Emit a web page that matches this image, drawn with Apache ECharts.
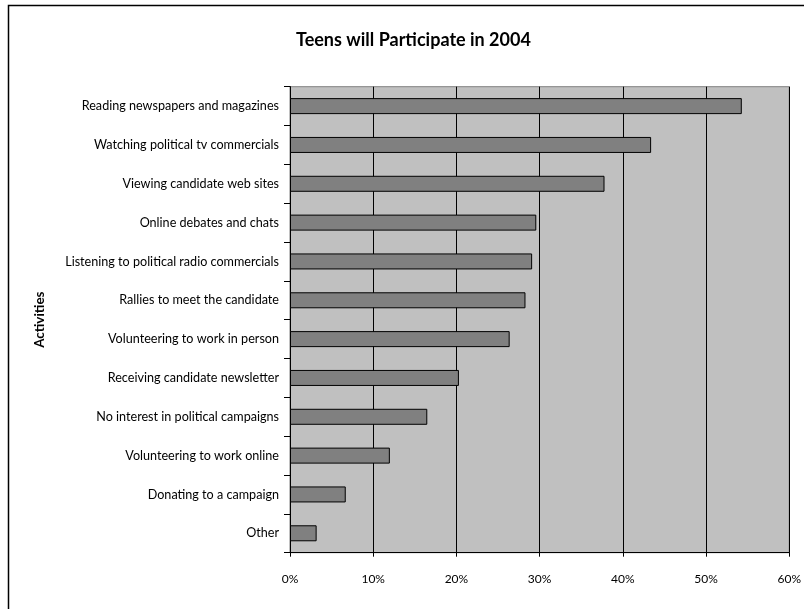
<!DOCTYPE html>
<html>
<head>
<meta charset="utf-8">
<script src="https://cdn.jsdelivr.net/npm/echarts@6/dist/echarts.min.js"></script>
<style>html,body{margin:0;padding:0;background:#fff;}#c{width:804px;height:609px;}</style>
</head>
<body>
<div id="c"></div>
<script>
const categories = [
  "Reading newspapers and magazines",
  "Watching political tv commercials",
  "Viewing candidate web sites",
  "Online debates and chats",
  "Listening to political radio commercials",
  "Rallies to meet the candidate",
  "Volunteering to work in person",
  "Receiving candidate newsletter",
  "No interest in political campaigns",
  "Volunteering to work online",
  "Donating to a campaign",
  "Other"
];
const values = [54.3, 43.4, 37.8, 29.6, 29.1, 28.3, 26.4, 20.3, 16.5, 12.0, 6.7, 3.2];
const xTicks = [0, 10, 20, 30, 40, 50, 60];
const titleText = "Teens will Participate in 2004";
const yAxisName = "Activities";

const FONT = "Lato";
const chart = echarts.init(document.getElementById('c'), null, {renderer: 'canvas'});
chart.setOption({
  animation: false,
  backgroundColor: '#ffffff',
  title: {
    text: titleText,
    left: 291, top: 26,
    textStyle: {fontFamily: FONT, fontWeight: 'bold', fontSize: 18, color: '#000'}
  },
  graphic: [{
    type: 'rect', silent: true, z: -1,
    shape: {x: 8.5, y: 5.5, width: 900, height: 700},
    style: {fill: 'none', stroke: '#000', lineWidth: 1.5}
  }],
  grid: {
    left: 290, right: 14.4, top: 86.7, bottom: 56.3,
    show: true, backgroundColor: '#c0c0c0', borderColor: '#808080', borderWidth: 1
  },
  xAxis: {
    type: 'value', min: xTicks[0], max: xTicks[xTicks.length - 1], interval: 10,
    axisLine: {show: true, onZero: false, lineStyle: {color: '#000', width: 1}},
    axisTick: {show: true, length: 4, lineStyle: {color: '#000'}},
    axisLabel: {margin: 20, fontFamily: FONT, fontSize: 12, color: '#000', formatter: v => v + '%'},
    splitLine: {show: true, lineStyle: {color: '#000', width: 1}}
  },
  yAxis: {
    type: 'category', data: categories, inverse: true,
    name: yAxisName, nameLocation: 'middle', nameGap: 244, nameRotate: 90,
    nameTextStyle: {fontFamily: FONT, fontWeight: 'bold', fontSize: 13.4, color: '#000'},
    axisLine: {show: true, lineStyle: {color: '#000', width: 1}},
    axisTick: {show: true, length: 6, lineStyle: {color: '#000'}},
    axisLabel: {margin: 11, fontFamily: FONT, fontSize: 12.6, color: '#000'},
    splitLine: {show: false}
  },
  series: [{
    type: 'bar', data: values, barWidth: 16,
    itemStyle: {color: '#808080', borderColor: '#000', borderWidth: 1}
  }]
});
</script>
</body>
</html>
